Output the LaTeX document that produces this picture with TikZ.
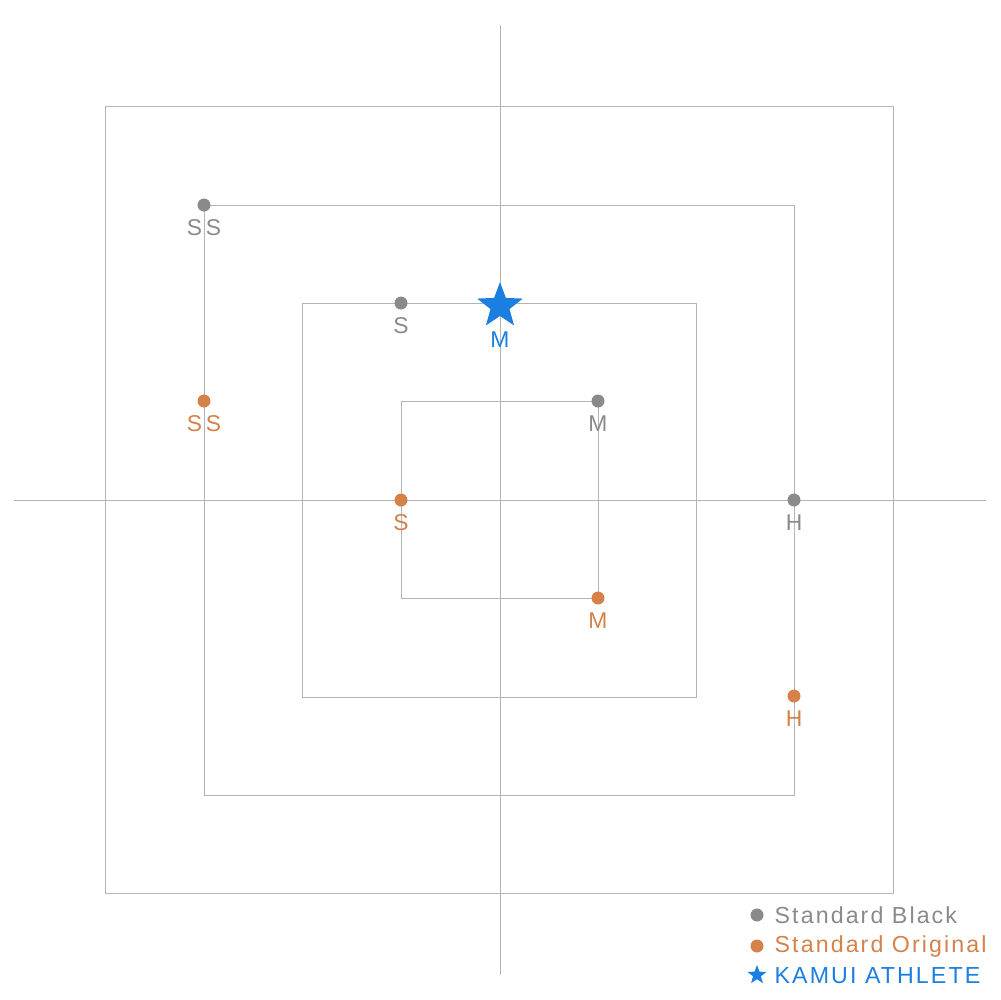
\documentclass[tikz,border=0pt]{standalone}
\usepackage{fontspec}
\setmainfont{Liberation Sans}
\usetikzlibrary{shapes.geometric}
\definecolor{gr}{HTML}{8A8A8A}
\definecolor{og}{HTML}{D4824A}
\definecolor{bl}{HTML}{1A7FE0}
\definecolor{ln}{HTML}{B4B4B4}
\begin{document}
\begin{tikzpicture}[x=0.1mm,y=-0.1mm,
 ln/.style={draw=ln,line width=0.1mm},
 dot/.style={circle,inner sep=0pt,minimum size=1.3mm},
 gd/.style={dot,fill=gr},
 od/.style={dot,fill=og},
 lab/.style={font=\fontsize{6.5pt}{7pt}\selectfont,inner sep=0pt,anchor=north}]
\useasboundingbox (0,0) rectangle (1000,1000);
\draw[ln] (105,106) rectangle (893,893);
\draw[ln] (204,205) rectangle (794,795);
\draw[ln] (302,303) rectangle (696,697);
\draw[ln] (401,401) rectangle (598,598);
\coordinate (vt) at (500,25); \coordinate (vb) at (500,975);
\coordinate (hl) at (14,500); \coordinate (hr) at (986,500);
\draw[ln] (vt)--(vb); \draw[ln] (hl)--(hr);
\node[gd] (g1) at (204,205) {}; \node[lab,text=gr] at (204,219) {S\,S};
\node[gd] (g2) at (401,303) {}; \node[lab,text=gr] at (401,317) {S};
\node[gd] (g3) at (598,401) {}; \node[lab,text=gr] at (598,415) {M};
\node[gd] (g4) at (794,500) {}; \node[lab,text=gr] at (794,514) {H};
\node[od] (o1) at (204,401) {}; \node[lab,text=og] at (204,415) {S\,S};
\node[od] (o2) at (401,500) {}; \node[lab,text=og] at (401,514) {S};
\node[od] (o3) at (598,598) {}; \node[lab,text=og] at (598,612) {M};
\node[od] (o4) at (794,696) {}; \node[lab,text=og] at (794,710) {H};
\node[star,star points=5,star point ratio=2.4,fill=bl,inner sep=0pt,minimum size=4.8mm] (k) at (500,306) {};
\node[lab,text=bl] at (500,331) {M};
\node[gd] (l1) at (757,915) {};
\node[od] (l2) at (757,946) {};
\node[star,star points=5,star point ratio=2.4,fill=bl,inner sep=0pt,minimum size=2mm] (l3) at (757,975) {};
\begin{scope}[every node/.style={anchor=west,inner sep=0pt,font=\fontsize{6.6pt}{7pt}\selectfont\addfontfeature{LetterSpace=9}}]
\node[text=gr] at (774,915) {Standard Black};
\node[text=og] at (774,946) {Standard Original};
\node[text=bl] at (774,976) {KAMUI ATHLETE};
\end{scope}
\end{tikzpicture}
\end{document}
